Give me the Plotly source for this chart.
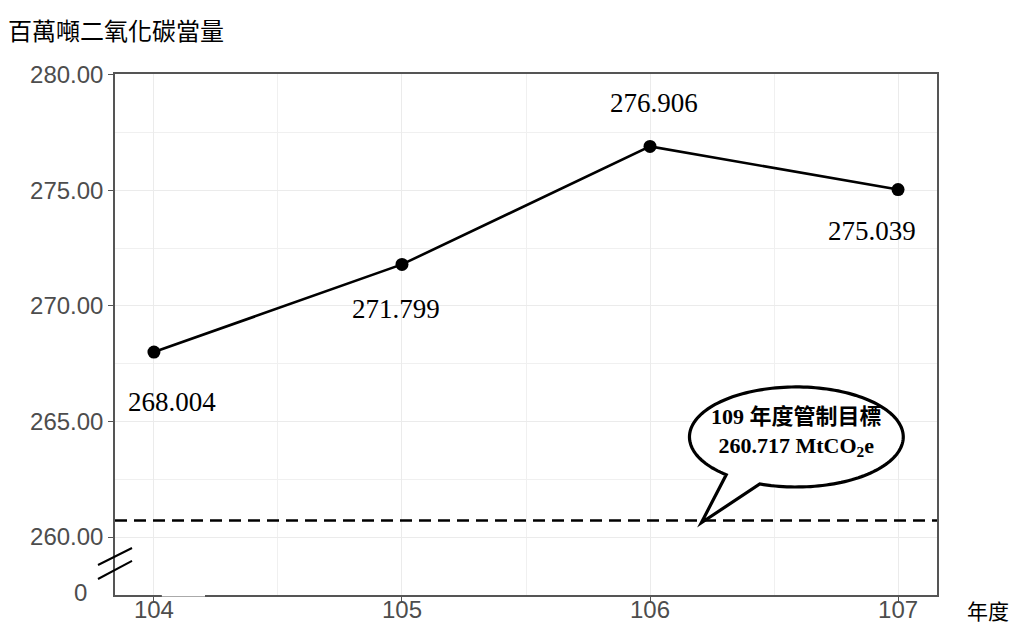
import numpy as np
import plotly.graph_objects as go

# Annual emissions (million tonnes CO2e)
years = [104, 105, 106, 107]
emissions = [268.004, 271.799, 276.906, 275.039]
target_value = 260.717
target_year_label = "109 年度管制目標"
y_tick_values = [260, 265, 270, 275, 280]

y_title = "百萬噸二氧化碳當量"
x_title = "年度"

# pixel offsets of the value labels relative to each point
label_shift = [(18, -50), (-6, -45), (4, 43), (-26, -41)]

TICK_FONT = dict(family="Liberation Sans, Arial, sans-serif", size=24, color="#4D4D4D")
SERIF = "Liberation Serif, 'Noto Sans CJK TC', serif"

fig = go.Figure()

fig.add_trace(go.Scatter(
    x=years, y=emissions, mode="lines+markers",
    line=dict(color="black", width=2.6),
    marker=dict(color="black", size=13),
    hoverinfo="skip", showlegend=False,
))

# value labels
for x, y, (dx, dy) in zip(years, emissions, label_shift):
    fig.add_annotation(
        x=x, y=y, text=f"{y:.3f}", showarrow=False,
        xshift=dx, yshift=dy,
        font=dict(family=SERIF, size=27, color="black"),
    )

# target reference line
fig.add_shape(
    type="line", xref="paper", yref="y", x0=0, x1=1, y0=target_value, y1=target_value,
    line=dict(color="black", width=2.5, dash="12px,7px"), layer="above",
)

# speech-bubble callout pointing at the target line
cx, cy, rx, ry = 106.59, 264.33, 0.431, 2.165
tip_x, tip_y = 106.207, target_value - 0.1
theta = np.radians(np.linspace(250, 589, 160))
ex = cx + rx * np.cos(theta)
ey = cy + ry * np.sin(theta)
path = f"M {tip_x},{tip_y} " + " ".join(f"L {a:.4f},{b:.4f}" for a, b in zip(ex, ey)) + " Z"
fig.add_shape(
    type="path", xref="x", yref="y", path=path,
    line=dict(color="black", width=3.2), fillcolor="white", layer="above",
)
fig.add_annotation(
    x=cx, y=cy, yshift=5, showarrow=False,
    text=f"<b>{target_year_label}<br>{target_value:.3f} MtCO<sub>2</sub>e</b>",
    font=dict(family=SERIF, size=22, color="black"),
    align="center",
)

# axis-break marks on the y axis
for y0, y1 in [(0.0576, 0.0902), (0.0307, 0.0653)]:
    fig.add_shape(
        type="line", xref="paper", yref="paper", x0=-0.0207, x1=0.0207, y0=y0, y1=y1,
        line=dict(color="black", width=2), layer="above",
    )
# small gap in the bottom frame next to the break
fig.add_shape(
    type="line", xref="paper", yref="paper", x0=0.057, x1=0.1095, y0=0, y1=0,
    line=dict(color="white", width=3), layer="above",
)
# the "0" at the bottom of the broken axis
fig.add_annotation(
    xref="paper", yref="paper", x=-0.0316, y=0.005, xanchor="right", yanchor="middle",
    text="0", showarrow=False, font=TICK_FONT,
)

# x-axis unit label
fig.add_annotation(
    xref="paper", yref="paper", x=1.062, y=-0.0288, xanchor="center", yanchor="middle",
    text=x_title, showarrow=False,
    font=dict(family="'Noto Sans CJK TC', sans-serif", size=21, color="black"),
)

fig.update_layout(
    width=1015, height=625,
    margin=dict(l=115, r=78, t=74, b=30, autoexpand=False),
    paper_bgcolor="white", plot_bgcolor="white",
    title=dict(
        text=y_title, x=8 / 1015, xref="container", xanchor="left",
        y=1 - 32 / 625, yref="container", yanchor="middle",
        font=dict(family="'Noto Sans CJK TC', sans-serif", size=24, color="black"),
    ),
)

fig.update_xaxes(
    range=[103.843, 107.157], tickvals=years, ticktext=[str(v) for v in years],
    automargin=False, ticklabelstandoff=-13,
    showgrid=True, gridcolor="#EBEBEB", gridwidth=1.2,
    minor=dict(dtick=0.5, tick0=103.5, showgrid=True, gridcolor="#F0F0F0", gridwidth=1),
    showline=True, linecolor="#555555", linewidth=1.5, mirror=True,
    ticks="outside", ticklen=5, tickcolor="#555555", tickwidth=1.2,
    tickfont=TICK_FONT, zeroline=False,
)
fig.update_yaxes(
    range=[257.49, 280.04], tickvals=y_tick_values, tickformat=".2f",
    automargin=False,
    showgrid=True, gridcolor="#EBEBEB", gridwidth=1.2,
    minor=dict(dtick=2.5, tick0=257.5, showgrid=True, gridcolor="#F0F0F0", gridwidth=1),
    showline=True, linecolor="#555555", linewidth=1.5, mirror=True,
    ticks="outside", ticklen=5, tickcolor="#555555", tickwidth=1.2,
    tickfont=TICK_FONT, zeroline=False,
)

fig.write_html("out.html")
